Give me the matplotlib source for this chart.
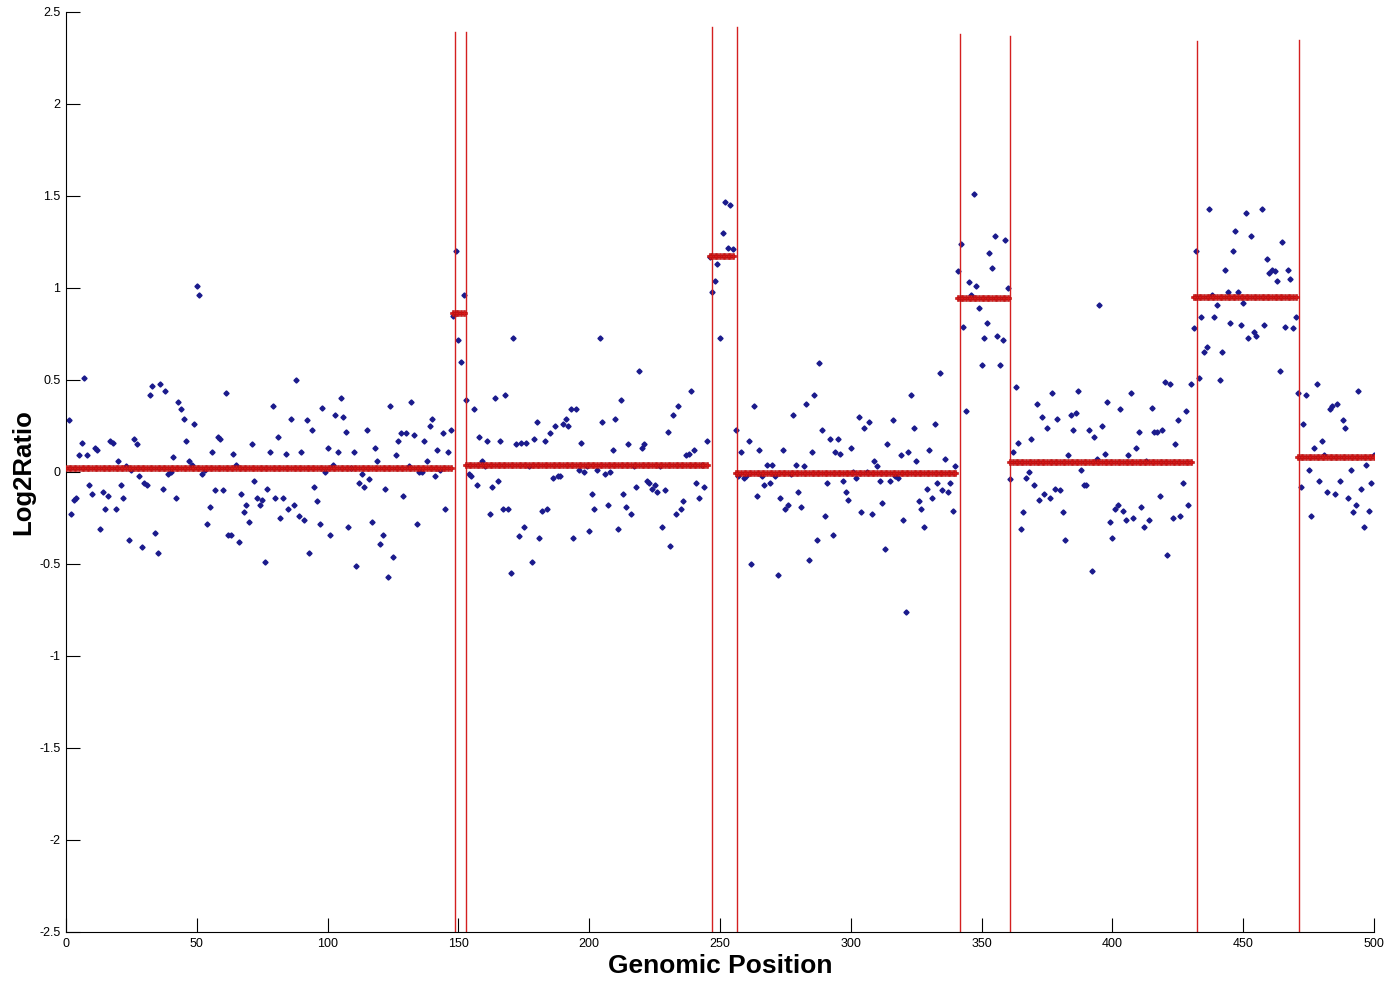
import numpy as np
import matplotlib
matplotlib.use('Agg')
import matplotlib.pyplot as plt

# probe readings: (genomic position, log2 ratio)
pos = [1, 2, 3, 4, 5, 6, 7, 8, 9, 10, 11, 12, 13, 14, 15, 16, 17, 18, 19, 20,
       21, 22, 23, 24, 25, 26, 27, 28, 29, 30, 31, 32, 33, 34, 35, 36, 37, 38, 39, 40,
       41, 42, 43, 44, 45, 46, 47, 48, 49, 50, 51, 52, 53, 54, 55, 56, 57, 58, 59, 60,
       61, 62, 63, 64, 65, 66, 67, 68, 69, 70, 71, 72, 73, 74, 75, 76, 77, 78, 79, 80,
       81, 82, 83, 84, 85, 86, 87, 88, 89, 90, 91, 92, 93, 94, 95, 96, 97, 98, 99, 100,
       101, 102, 103, 104, 105, 106, 107, 108, 109, 110, 111, 112, 113, 114, 115, 116, 117, 118, 119, 120,
       121, 122, 123, 124, 125, 126, 127, 128, 129, 130, 131, 132, 133, 134, 135, 136, 137, 138, 139, 140,
       141, 142, 143, 144, 145, 146, 147, 148, 149, 150, 151, 152, 153, 154, 155, 156, 157, 158, 159, 160,
       161, 162, 163, 164, 165, 166, 167, 168, 169, 170, 171, 172, 173, 174, 175, 176, 177, 178, 179, 180,
       181, 182, 183, 184, 185, 186, 187, 188, 189, 190, 191, 192, 193, 194, 195, 196, 197, 198, 199, 200,
       201, 202, 203, 204, 205, 206, 207, 208, 209, 210, 211, 212, 213, 214, 215, 216, 217, 218, 219, 220,
       221, 222, 223, 224, 225, 226, 227, 228, 229, 230, 231, 232, 233, 234, 235, 236, 237, 238, 239, 240,
       241, 242, 243, 244, 245, 246, 247, 248, 249, 250, 251, 252, 253, 254, 255, 256, 257, 258, 259, 260,
       261, 262, 263, 264, 265, 266, 267, 268, 269, 270, 271, 272, 273, 274, 275, 276, 277, 278, 279, 280,
       281, 282, 283, 284, 285, 286, 287, 288, 289, 290, 291, 292, 293, 294, 295, 296, 297, 298, 299, 300,
       301, 302, 303, 304, 305, 306, 307, 308, 309, 310, 311, 312, 313, 314, 315, 316, 317, 318, 319, 320,
       321, 322, 323, 324, 325, 326, 327, 328, 329, 330, 331, 332, 333, 334, 335, 336, 337, 338, 339, 340,
       341, 342, 343, 344, 345, 346, 347, 348, 349, 350, 351, 352, 353, 354, 355, 356, 357, 358, 359, 360,
       361, 362, 363, 364, 365, 366, 367, 368, 369, 370, 371, 372, 373, 374, 375, 376, 377, 378, 379, 380,
       381, 382, 383, 384, 385, 386, 387, 388, 389, 390, 391, 392, 393, 394, 395, 396, 397, 398, 399, 400,
       401, 402, 403, 404, 405, 406, 407, 408, 409, 410, 411, 412, 413, 414, 415, 416, 417, 418, 419, 420,
       421, 422, 423, 424, 425, 426, 427, 428, 429, 430, 431, 432, 433, 434, 435, 436, 437, 438, 439, 440,
       441, 442, 443, 444, 445, 446, 447, 448, 449, 450, 451, 452, 453, 454, 455, 457, 458, 459, 460, 461,
       462, 463, 464, 465, 466, 467, 468, 469, 470, 471, 472, 473, 474, 475, 476, 477, 478, 479, 480, 481,
       482, 483, 484, 485, 486, 487, 488, 489, 490, 491, 492, 493, 494, 495, 496, 497, 498, 499, 500]

log2ratio = [
    0.28, -0.23, -0.15, -0.14, 0.09, 0.16, 0.51, 0.09, -0.07, -0.12, 0.13, 0.12, -0.31, -0.11, -0.20, -0.13, 0.17, 0.16, -0.20, 0.06,
    -0.07, -0.14, 0.03, -0.37, 0.01, 0.18, 0.15, -0.02, -0.41, -0.06, -0.07, 0.42, 0.47, -0.33, -0.44, 0.48, -0.09, 0.44, -0.01, 0.00,
    0.08, -0.14, 0.38, 0.34, 0.29, 0.17, 0.06, 0.04, 0.26, 1.01, 0.96, -0.01, 0.01, -0.28, -0.19, 0.11, -0.10, 0.19, 0.18, -0.10,
    0.43, -0.34, -0.34, 0.10, 0.04, -0.38, -0.12, -0.22, -0.18, -0.27, 0.15, -0.05, -0.14, -0.18, -0.15, -0.49, -0.09, 0.11, 0.36, -0.14,
    0.19, -0.25, -0.14, 0.10, -0.20, 0.29, -0.18, 0.50, -0.24, 0.11, -0.26, 0.28, -0.44, 0.23, -0.08, -0.16, -0.28, 0.35, 0.00, 0.13,
    -0.34, 0.04, 0.31, 0.11, 0.40, 0.30, 0.22, -0.30, 0.02, 0.11, -0.51, -0.06, -0.01, -0.08, 0.23, -0.04, -0.27, 0.13, 0.06, -0.39,
    -0.34, -0.09, -0.57, 0.36, -0.46, 0.09, 0.17, 0.21, -0.13, 0.21, 0.03, 0.38, 0.20, -0.28, 0.00, 0.00, 0.17, 0.06, 0.25, 0.29,
    -0.02, 0.12, 0.01, 0.21, -0.20, 0.11, 0.23, 0.85, 1.20, 0.72, 0.60, 0.96, 0.39, -0.01, -0.02, 0.34, -0.07, 0.19, 0.06, 0.03,
    0.17, -0.23, -0.08, 0.40, -0.05, 0.17, -0.20, 0.42, -0.20, -0.55, 0.73, 0.15, -0.35, 0.16, -0.30, 0.16, 0.03, -0.49, 0.18, 0.27,
    -0.36, -0.21, 0.17, -0.20, 0.21, -0.03, 0.25, -0.02, -0.02, 0.26, 0.29, 0.25, 0.34, -0.36, 0.34, 0.01, 0.16, 0.00, 0.03, -0.32,
    -0.12, -0.20, 0.01, 0.73, 0.27, -0.01, -0.18, 0.00, 0.12, 0.29, -0.31, 0.39, -0.12, -0.19, 0.15, -0.23, 0.03, -0.08, 0.55, 0.13,
    0.15, -0.05, -0.06, -0.09, -0.07, -0.11, 0.03, -0.30, -0.10, 0.22, -0.40, 0.31, -0.23, 0.36, -0.20, -0.16, 0.09, 0.10, 0.44, 0.12,
    -0.06, -0.14, 0.04, -0.08, 0.17, 1.17, 0.98, 1.04, 1.13, 0.73, 1.30, 1.47, 1.22, 1.45, 1.21, 0.23, -0.02, 0.11, -0.03, -0.02,
    0.17, -0.50, 0.36, -0.13, 0.12, -0.02, -0.07, 0.04, -0.06, 0.04, -0.02, -0.56, -0.14, 0.12, -0.20, -0.18, -0.01, 0.31, 0.04, -0.11,
    -0.19, 0.03, 0.37, -0.48, 0.11, 0.42, -0.37, 0.59, 0.23, -0.24, -0.06, 0.18, -0.34, 0.11, 0.18, 0.10, -0.05, -0.11, -0.15, 0.13,
    0.00, -0.03, 0.30, -0.22, 0.24, 0.00, 0.27, -0.23, 0.06, 0.03, -0.05, -0.17, -0.42, 0.15, -0.05, 0.28, -0.02, -0.03, 0.09, -0.26,
    -0.76, 0.11, 0.42, 0.24, 0.06, -0.16, -0.20, -0.30, -0.09, 0.12, -0.14, 0.26, -0.06, 0.54, -0.10, 0.07, -0.11, -0.06, -0.21, 0.03,
    1.09, 1.24, 0.79, 0.33, 1.03, 0.96, 1.51, 1.01, 0.89, 0.58, 0.73, 0.81, 1.19, 1.11, 1.28, 0.74, 0.58, 0.72, 1.26, 1.00,
    -0.04, 0.11, 0.46, 0.16, -0.31, -0.22, -0.03, 0.00, 0.18, -0.07, 0.37, -0.15, 0.30, -0.12, 0.24, -0.14, 0.43, -0.09, 0.29, -0.10,
    -0.22, -0.37, 0.09, 0.31, 0.23, 0.32, 0.44, 0.01, -0.07, -0.07, 0.23, -0.54, 0.19, 0.07, 0.91, 0.25, 0.10, 0.38, -0.27, -0.36,
    -0.20, -0.18, 0.34, -0.21, -0.26, 0.09, 0.43, -0.25, 0.13, 0.22, -0.19, -0.30, 0.06, -0.26, 0.35, 0.22, 0.22, -0.13, 0.23, 0.49,
    -0.45, 0.48, -0.25, 0.15, 0.28, -0.24, -0.06, 0.33, -0.18, 0.48, 0.78, 1.20, 0.51, 0.84, 0.65, 0.68, 1.43, 0.96, 0.84, 0.91,
    0.50, 0.65, 1.10, 0.98, 0.81, 1.20, 1.31, 0.98, 0.80, 0.92, 1.41, 0.73, 1.28, 0.76, 0.74, 1.43, 0.80, 1.16, 1.08, 1.10,
    1.09, 1.04, 0.55, 1.25, 0.79, 1.10, 1.05, 0.78, 0.84, 0.43, -0.08, 0.26, 0.42, 0.01, -0.24, 0.13, 0.48, -0.05, 0.17, 0.09,
    -0.11, 0.34, 0.36, -0.12, 0.37, -0.05, 0.28, 0.24, -0.14, 0.01, -0.22, -0.18, 0.44, -0.09, -0.30, 0.04, -0.21, -0.06, 0.09]

# segmentation result
seg_start = [0, 148, 153, 246, 256, 341, 361, 431, 471]
seg_end = [147, 152, 245, 255, 340, 360, 430, 470, 500]
seg_mean = [0.02, 0.862, 0.036, 1.172, -0.007, 0.944, 0.056, 0.949, 0.080]

# breakpoints and how high each red line reaches
breaks = [148.9, 152.8, 246.9, 256.5, 341.9, 361.0, 432.2, 471.3]
break_top = [2.39, 2.39, 2.42, 2.42, 2.38, 2.37, 2.34, 2.35]

fig = plt.figure(figsize=(13.94, 9.83), dpi=100)
ax = fig.add_axes([0.0473, 0.0519, 0.9384, 0.9359])

ax.plot(pos, log2ratio, linestyle='none', marker='D', ms=2.6,
        color='#1a1a8c', mec='#1a1a8c')

for s, e, m in zip(seg_start, seg_end, seg_mean):
    xs = np.arange(s, e + 1)
    ax.plot(xs, np.full(len(xs), m), color='#e01010', lw=2.5, zorder=3)
    ax.plot(xs, np.full(len(xs), m), linestyle='none', marker='P', ms=5,
            color='#d81818', mec='#b01010', mew=0.4, zorder=3)

for b, t in zip(breaks, break_top):
    ax.plot([b, b], [-2.5, t], color='#d42020', lw=1.0, zorder=2)

ax.set_xlim(0, 500)
ax.set_ylim(-2.5, 2.5)
ax.set_xticks(np.arange(0, 501, 50))
ax.set_yticks([-2.5, -2, -1.5, -1, -0.5, 0, 0.5, 1, 1.5, 2, 2.5])
ax.set_yticklabels(['-2.5', '-2', '-1.5', '-1', '-0.5', '0', '0.5', '1', '1.5', '2', '2.5'])
ax.tick_params(direction='in', length=10, width=0.8, labelsize=9, pad=4)
for side in ['top', 'right']:
    ax.spines[side].set_visible(False)
for side in ['left', 'bottom']:
    ax.spines[side].set_linewidth(0.8)

ax.set_xlabel('Genomic Position', fontsize=19, fontweight='bold',
              family='Liberation Sans', labelpad=3)
ax.set_ylabel('Log2Ratio', fontsize=18.5, fontweight='bold',
              family='Liberation Sans', labelpad=3)
for lab in ax.get_xticklabels() + ax.get_yticklabels():
    lab.set_family('Liberation Sans')

fig.savefig('out.png', dpi=100, facecolor='white')
